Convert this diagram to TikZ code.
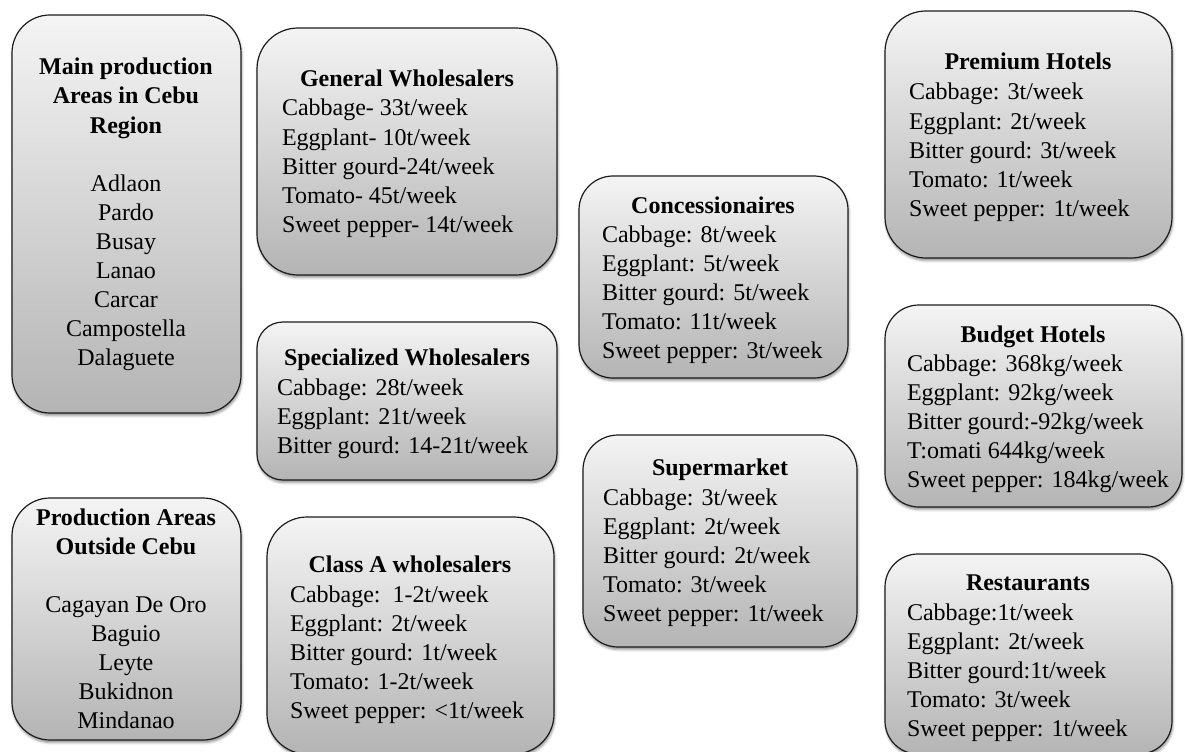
\documentclass[tikz,border=0pt]{standalone}
\usepackage{fontspec}
\setmainfont{Liberation Serif}
\usetikzlibrary{shadows.blur}
\definecolor{cardtop}{RGB}{244,244,244}
\definecolor{cardbottom}{RGB}{180,180,180}
\definecolor{cardline}{RGB}{28,28,28}
\tikzset{
  card/.style={draw=cardline, line width=1.2bp, rectangle, rounded corners=#1,
    top color=cardtop, bottom color=cardbottom, inner sep=0pt, outer sep=0pt,
    blur shadow={shadow xshift=0.8bp, shadow yshift=-2.5bp, shadow blur radius=2.5bp, shadow opacity=45}},
  txt/.style={inner sep=0pt, outer sep=0pt, font=\fontsize{24bp}{29bp}\selectfont},
  heading/.style={txt, font=\fontsize{24bp}{29bp}\selectfont\bfseries, anchor=base},
  % multi-line nodes: the base anchor sits on the baseline of the last line
  lines/.style={txt, align=left, anchor=base west},
  centred/.style={txt, align=center, anchor=base},
}
% box from (x1,y1) to (x2,y2), y measured downward
\newcommand{\cardbox}[6]{%
  \node[card=#6, minimum width=#4bp-#2bp, minimum height=#5bp-#3bp] (#1) at ({(#2+#4)/2},{(#3+#5)/2}) {};}
\begin{document}
\begin{tikzpicture}[x=1bp, y=-1bp]
\useasboundingbox (0,0) rectangle (1185,752);

% production areas
\cardbox{cebu}{12}{15}{241}{413}{38bp}
\node[centred] (cebut) at (126,365) {\bfseries Main production\\\bfseries Areas in Cebu\\\bfseries Region\\[29bp]
  Adlaon\\Pardo\\Busay\\Lanao\\Carcar\\Campostella\\Dalaguete};

\cardbox{outside}{12}{498}{241}{740}{38bp}
\node[centred] (outsidet) at (126,728) {\bfseries Production Areas\\\bfseries Outside Cebu\\[29bp]
  Cagayan De Oro\\Baguio\\Leyte\\Bukidnon\\Mindanao};

% wholesalers
\cardbox{general}{257}{28}{557}{275}{41bp}
\node[heading] (generalt) at (407,87) {General Wholesalers};
\node[lines] (generalb) at (282,232) {Cabbage- 33t/week\\Eggplant- 10t/week\\Bitter gourd-24t/week\\Tomato- 45t/week\\Sweet pepper- 14t/week};

\cardbox{special}{257}{322}{557}{480}{26bp}
\node[heading] (specialt) at (407,365) {Specialized Wholesalers};
\node[lines] (specialb) at (277,453) {Cabbage: 28t/week\\Eggplant: 21t/week\\Bitter gourd: 14-21t/week};

\cardbox{classa}{267}{517}{554}{754}{40bp}
\node[heading] (classat) at (410,572) {Class A wholesalers};
\node[lines] (classab) at (290,718) {Cabbage:\ \ 1-2t/week\\Eggplant: 2t/week\\Bitter gourd: 1t/week\\Tomato: 1-2t/week\\Sweet pepper: <1t/week};

% retail
\cardbox{conc}{579}{176}{848}{378}{34bp}
\node[heading] (conct) at (713,213) {Concessionaires};
\node[lines] (concb) at (602,358) {Cabbage: 8t/week\\Eggplant: 5t/week\\Bitter gourd: 5t/week\\Tomato: 11t/week\\Sweet pepper: 3t/week};

\cardbox{super}{583}{435}{857}{647}{35bp}
\node[heading] (supert) at (720,475) {Supermarket};
\node[lines] (superb) at (603,621) {Cabbage: 3t/week\\Eggplant: 2t/week\\Bitter gourd: 2t/week\\Tomato: 3t/week\\Sweet pepper: 1t/week};

% hotels and restaurants
\cardbox{premium}{885}{11}{1172}{258}{41bp}
\node[heading] (premiumt) at (1028,70) {Premium Hotels};
\node[lines] (premiumb) at (909,216) {Cabbage: 3t/week\\Eggplant: 2t/week\\Bitter gourd: 3t/week\\Tomato: 1t/week\\Sweet pepper: 1t/week};

\cardbox{budget}{885}{305}{1182}{507}{34bp}
\node[heading] (budgett) at (1033,342) {Budget Hotels};
\node[lines] (budgetb) at (907,487) {Cabbage: 368kg/week\\Eggplant: 92kg/week\\Bitter gourd:-92kg/week\\T:omati 644kg/week\\Sweet pepper: 184kg/week};

\cardbox{rest}{885}{554}{1172}{754}{33bp}
\node[heading] (restt) at (1028,590) {Restaurants};
\node[lines] (restb) at (907,736) {Cabbage:1t/week\\Eggplant: 2t/week\\Bitter gourd:1t/week\\Tomato: 3t/week\\Sweet pepper: 1t/week};
\end{tikzpicture}
\end{document}
